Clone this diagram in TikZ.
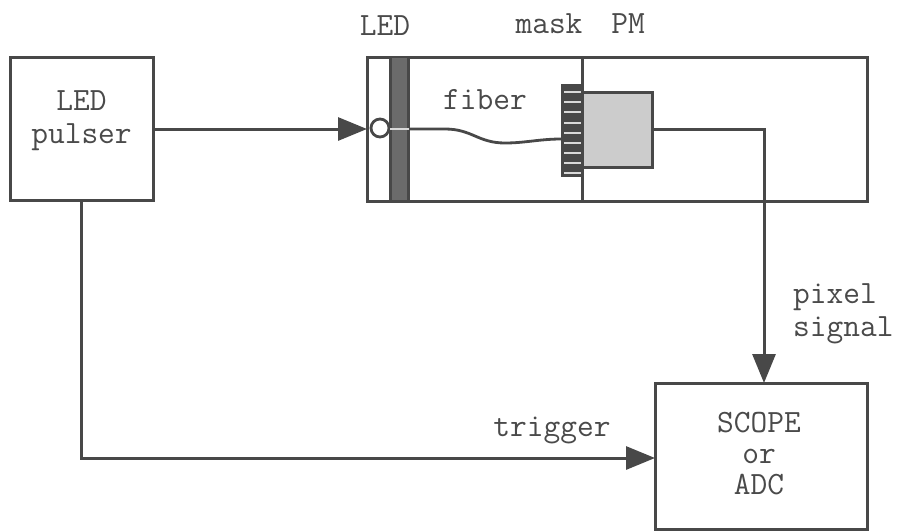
\documentclass[tikz,border=0pt]{standalone}
\usepackage{fontspec}
\setmonofont{Latin Modern Mono}
\usetikzlibrary{arrows.meta,patterns}
\definecolor{ink}{HTML}{484848}
\definecolor{txt}{HTML}{4A4A4A}
\tikzset{
  box/.style={draw=ink,line width=3pt,inner sep=0pt,outer sep=0pt,anchor=north west,fill=white},
  lbl/.style={text=txt,font=\ttfamily\fontsize{32.5}{31}\selectfont,inner sep=0pt,anchor=center},
  wire/.style={draw=ink,line width=3pt},
  arr/.style={wire,-{Triangle[length=29pt,width=23pt,fill=ink]}},
  strip/.style={draw=ink,line width=2.4pt,fill=black!58},
  pmfill/.style={draw=ink,line width=3pt,fill=black!20}
}
\begin{document}
\begin{tikzpicture}[x=1pt,y=-1pt]
\useasboundingbox (0,0) rectangle (901,531);
\node[box,minimum width=143pt,minimum height=143pt] (pulser) at (10,57) {};
\node[box,minimum width=500pt,minimum height=144pt] (main) at (367,57) {};
\node[box,minimum width=212pt,minimum height=146pt] (scope) at (655,383) {};
\coordinate (divT) at (582,57); \coordinate (divB) at (582,201);
\draw[wire] (divT) -- (divB);
\node[strip,minimum width=18pt,minimum height=144pt,inner sep=0pt,outer sep=0pt] (strip) at (399.5,129) {};
\node[pmfill,minimum width=70pt,minimum height=75pt,inner sep=0pt,outer sep=0pt,anchor=north west] (pm) at (582,92) {};
\node[draw=ink,fill=ink,line width=1pt,minimum width=21pt,minimum height=92pt,inner sep=0pt,outer sep=0pt,anchor=north west] (mask) at (561,84) {};
\foreach \y in {92,102,112,123,133,143,153,163,173}
  \draw[white!85!black,line width=1.8pt] (564,\y) -- (581,\y);
\node[circle,draw=ink,line width=2.8pt,fill=white,minimum size=18pt,inner sep=0pt,outer sep=0pt] (led) at (380,128) {};
\coordinate (fibS) at (390,129);
\coordinate (fibA) at (409,129);
\draw[white!85!black,line width=2pt] (fibS) -- (fibA);
\draw[ink,line width=2.8pt] (fibA) -- (445,129) .. controls (472,129) and (478,143) .. (505,143) .. controls (525,143) and (540,139) .. (mask.west |- 0,139);
\draw[arr] (pulser.east |- 0,129) -- (main.west |- 0,129);
\coordinate (bend) at (764,129);
\draw[arr] (pm.east |- bend) -- (bend) -- (scope.north -| bend);
\coordinate (bend2) at (81,458);
\draw[arr] (pulser.south -| bend2) -- (bend2) -- (scope.west |- bend2);
\node[lbl,align=center,font=\ttfamily\fontsize{32.5}{33}\selectfont] (t1) at (81.5,121) {LED\\pulser};
\node[lbl] (t2) at (385,26) {LED};
\node[lbl] (t3) at (549,24) {mask};
\node[lbl] (t4) at (628,24) {PM};
\node[lbl] (t6) at (485,100) {fiber};
\node[lbl,align=left,anchor=north west,font=\ttfamily\fontsize{32.5}{33}\selectfont] (t7) at (793,283) {pixel\\signal};
\node[lbl] (t8) at (552,430) {trigger};
\node[lbl,align=center] (t9) at (759,454) {SCOPE\\or\\ADC};
\end{tikzpicture}
\end{document}
